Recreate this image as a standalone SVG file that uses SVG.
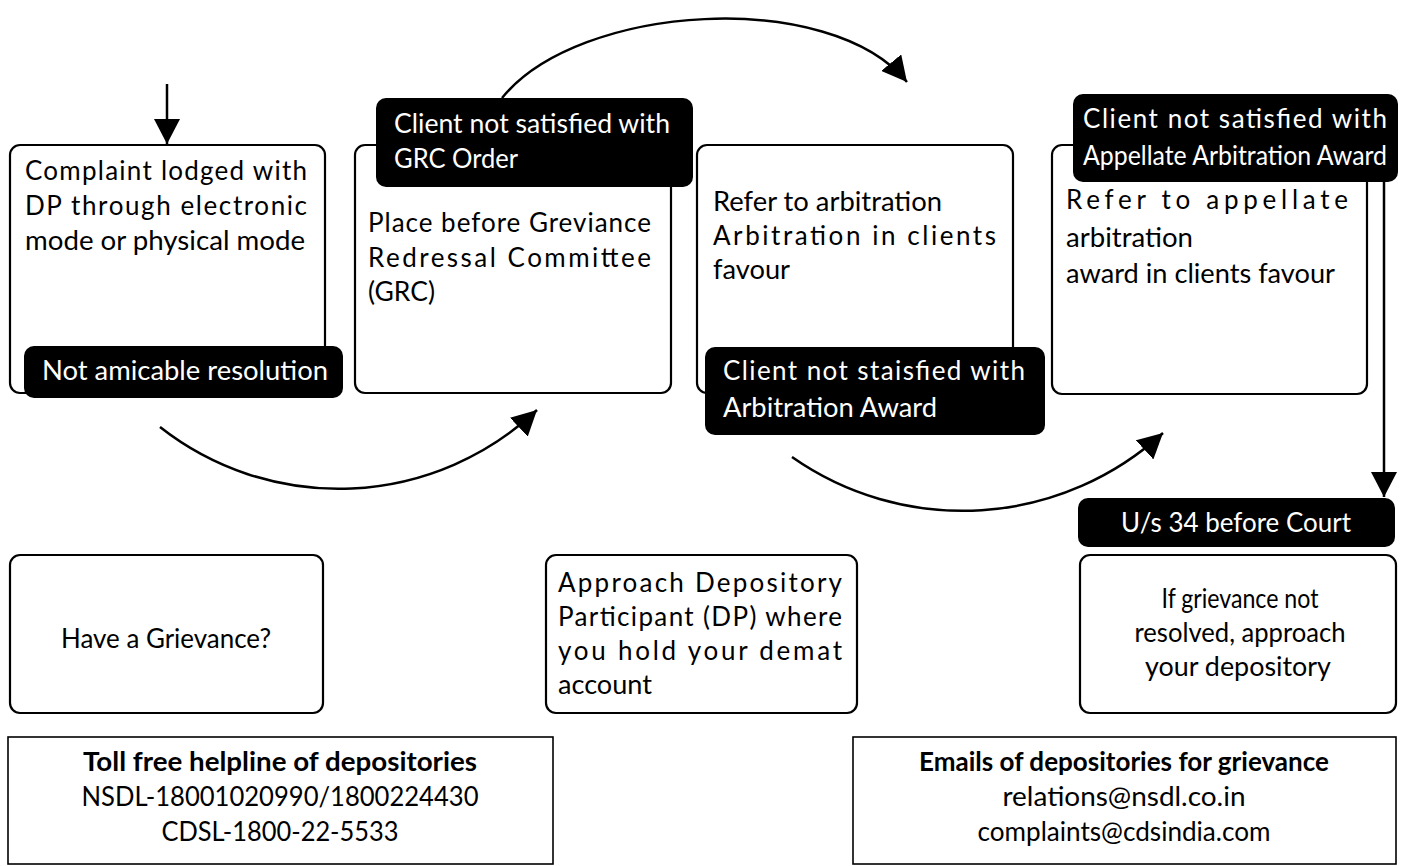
<svg xmlns="http://www.w3.org/2000/svg" width="1404" height="866" viewBox="0 0 1404 866">
<defs>
<style>
.box{fill:#fff;stroke:#000;stroke-width:2.2}
.sq{fill:#fff;stroke:#000;stroke-width:1.6}
.lbl{fill:#000;stroke:none}
.t{font-family:Lato,"Open Sans",sans-serif;font-size:26px;fill:#000}
.w{fill:#fff}
.b{font-weight:bold}
.c{text-anchor:middle}
.con{fill:none;stroke:#000;stroke-width:2.5}
</style>
<marker id="ah" markerUnits="userSpaceOnUse" markerWidth="26" markerHeight="26" viewBox="0 0 26 26" refX="25" refY="13" orient="auto">
<path d="M0,0 L25,13 L0,26 z" fill="#000"/>
</marker>
</defs>
<rect width="1404" height="866" fill="#fff"/>

<g id="connectors">
<path class="con" d="M167,84 L167,144" marker-end="url(#ah)"/>
<path class="con" d="M502,98 C579,3 830,-12 907,82" marker-end="url(#ah)"/>
<path class="con" d="M160,427 A289,289 0 0 0 537,410" marker-end="url(#ah)"/>
<path class="con" d="M792,457 A297,297 0 0 0 1163,433" marker-end="url(#ah)"/>
<path class="con" d="M1384,182 L1384,497" marker-end="url(#ah)"/>
</g>

<g id="complaint">
<rect class="box" x="10" y="145" width="315" height="248" rx="10"/>
<text class="t" x="25" y="180" textLength="282" lengthAdjust="spacing">Complaint lodged with</text>
<text class="t" x="25" y="215" textLength="282" lengthAdjust="spacing">DP through electronic</text>
<text class="t" x="25" y="250" textLength="280" lengthAdjust="spacingAndGlyphs">mode or physical mode</text>
</g>
<g id="not-amicable">
<rect class="lbl" x="24" y="346" width="319" height="52" rx="10"/>
<text class="t w" x="42" y="380" textLength="286" lengthAdjust="spacingAndGlyphs">Not amicable resolution</text>
</g>

<g id="grc">
<rect class="box" x="355" y="145" width="316" height="248" rx="10"/>
<text class="t" x="368" y="232" textLength="283" lengthAdjust="spacing">Place before Greviance</text>
<text class="t" x="368" y="267" textLength="283" lengthAdjust="spacing">Redressal Committee</text>
<text class="t" x="368" y="301" textLength="67" lengthAdjust="spacingAndGlyphs">(GRC)</text>
</g>
<g id="not-satisfied-grc">
<rect class="lbl" x="376" y="98" width="317" height="89" rx="10"/>
<text class="t w" x="394" y="133" textLength="276" lengthAdjust="spacingAndGlyphs">Client not satisfied with</text>
<text class="t w" x="394" y="168" textLength="124" lengthAdjust="spacingAndGlyphs">GRC Order</text>
</g>

<g id="arbitration">
<rect class="box" x="697" y="145" width="316" height="248" rx="10"/>
<text class="t" x="713" y="211" textLength="229" lengthAdjust="spacingAndGlyphs">Refer to arbitration</text>
<text class="t" x="713" y="245" textLength="283" lengthAdjust="spacing">Arbitration in clients</text>
<text class="t" x="713" y="279" textLength="77" lengthAdjust="spacingAndGlyphs">favour</text>
</g>
<g id="not-satisfied-award">
<rect class="lbl" x="705" y="347" width="340" height="88" rx="10"/>
<text class="t w" x="723" y="380" textLength="302" lengthAdjust="spacing">Client not staisfied with</text>
<text class="t w" x="723" y="417" textLength="214" lengthAdjust="spacingAndGlyphs">Arbitration Award</text>
</g>

<g id="appellate">
<rect class="box" x="1052" y="145" width="315" height="249" rx="10"/>
<text class="t" x="1066" y="209" textLength="282" lengthAdjust="spacing">Refer to appellate</text>
<text class="t" x="1066" y="247" textLength="127" lengthAdjust="spacingAndGlyphs">arbitration</text>
<text class="t" x="1066" y="283" textLength="269" lengthAdjust="spacingAndGlyphs">award in clients favour</text>
</g>
<g id="not-satisfied-appellate">
<rect class="lbl" x="1073" y="94" width="325" height="88" rx="10"/>
<text class="t w" x="1083" y="128" textLength="304" lengthAdjust="spacing">Client not satisfied with</text>
<text class="t w" x="1083" y="165" textLength="304" lengthAdjust="spacingAndGlyphs">Appellate Arbitration Award</text>
</g>

<g id="court">
<rect class="lbl" x="1078" y="498" width="317" height="49" rx="10"/>
<text class="t w c" x="1236" y="532" textLength="230" lengthAdjust="spacingAndGlyphs">U/s 34 before Court</text>
</g>

<g id="have-grievance">
<rect class="box" x="10" y="555" width="313" height="158" rx="10"/>
<text class="t c" x="166" y="648" textLength="210" lengthAdjust="spacingAndGlyphs">Have a Grievance?</text>
</g>

<g id="approach-dp">
<rect class="box" x="546" y="555" width="311" height="158" rx="10"/>
<text class="t" x="558" y="592" textLength="284" lengthAdjust="spacing">Approach Depository</text>
<text class="t" x="558" y="626" textLength="284" lengthAdjust="spacing">Participant (DP) where</text>
<text class="t" x="558" y="660" textLength="284" lengthAdjust="spacing">you hold your demat</text>
<text class="t" x="558" y="694" textLength="94" lengthAdjust="spacingAndGlyphs">account</text>
</g>

<g id="approach-depository">
<rect class="box" x="1080" y="555" width="316" height="158" rx="10"/>
<text class="t c" x="1240" y="608" textLength="157" lengthAdjust="spacingAndGlyphs">If grievance not</text>
<text class="t c" x="1240" y="642" textLength="211" lengthAdjust="spacingAndGlyphs">resolved, approach</text>
<text class="t c" x="1238" y="676" textLength="186" lengthAdjust="spacingAndGlyphs">your depository</text>
</g>

<g id="toll-free">
<rect class="sq" x="8" y="737" width="545" height="127"/>
<text class="t b c" x="280" y="771" textLength="394" lengthAdjust="spacingAndGlyphs">Toll free helpline of depositories</text>
<text class="t c" x="280" y="806" textLength="397" lengthAdjust="spacingAndGlyphs">NSDL-18001020990/1800224430</text>
<text class="t c" x="280" y="841" textLength="237" lengthAdjust="spacingAndGlyphs">CDSL-1800-22-5533</text>
</g>

<g id="emails">
<rect class="sq" x="853" y="737" width="543" height="127"/>
<text class="t b c" x="1124" y="771" textLength="410" lengthAdjust="spacingAndGlyphs">Emails of depositories for grievance</text>
<text class="t c" x="1124" y="806" textLength="243" lengthAdjust="spacingAndGlyphs">relations@nsdl.co.in</text>
<text class="t c" x="1124" y="841" textLength="293" lengthAdjust="spacingAndGlyphs">complaints@cdsindia.com</text>
</g>
</svg>
